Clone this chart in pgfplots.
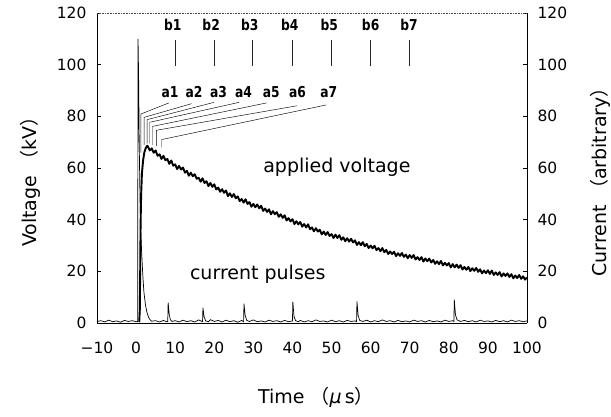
\documentclass[border=0pt]{standalone}
\usepackage{pgfplots}
\pgfplotsset{compat=1.18}
\usepackage{fontspec}
\setmainfont{DejaVu Sans}
\newfontfamily\cjk{Noto Sans CJK JP}
\newfontfamily\cond[FakeStretch=0.82]{DejaVu Sans}
\begin{document}
\begin{tikzpicture}
\path[use as bounding box] (-97pt,-93pt) rectangle (514pt,323pt);
\pgfplotsset{
 base/.style={at={(0,0)}, anchor=south west, scale only axis, width=430pt, height=310pt,
  xmin=-10, xmax=100, ymin=0, ymax=120, ytick={0,20,...,120},
  tick align=inside, major tick length=4pt, tick style={black, line width=0.6pt},
  /pgf/number format/assume math mode=true,
  ticklabel style={font=\fontsize{15.5}{18}\selectfont},
  label style={font=\fontsize{19}{22}\selectfont},
  axis line style={draw=none}, clip=false}
}
\begin{axis}[base,
 xtick={-10,0,...,100}, xtick style={draw=none},
 xticklabels={−10,0,10,20,30,40,50,60,70,80,90,100},
 xticklabel style={yshift=-15pt},
 yticklabel style={xshift=-7pt},
 xlabel={Time {\cjk （}\textit{μ}\,s{\cjk ）}},
 xlabel style={at={(axis description cs:0.509,-0.239)}, anchor=center},
 ylabel={Voltage {\cjk （}kV{\cjk ）}},
 ylabel style={at={(axis description cs:-0.156,0.47)}, anchor=center},
 unbounded coords=jump]
\draw[line width=0.8pt] (rel axis cs:0,0) -- (rel axis cs:0,1);
\draw[line width=0.8pt] (rel axis cs:1,0) -- (rel axis cs:1,1);
\draw[line width=0.8pt] (rel axis cs:0,0) -- (rel axis cs:1,0);
\draw[densely dotted, line width=0.6pt, black!70] (rel axis cs:0,1) -- (rel axis cs:1,1);
% current pulses
\addplot[black, line width=0.7pt] coordinates {
(-10,0.6)(-9,0.9)(-8,0.4)(-7,1.1)(-6,0.5)(-5,0.8)(-4,0.3)(-3,1.0)(-2,0.6)(-1,0.9)(0,0.5)(0.4,0.6)
(0.5,110)(0.65,95)(0.8,70)(1.0,48)(1.2,36)(1.4,28)(1.7,19)(2.0,12)(2.4,7)(2.8,4)(3.2,2.2)(3.6,1.2)(4.0,0.7)
(5,0.9)(6,0.4)(7,1.0)(7.8,0.5)(8.1,0.6)(8.2,7.9)(8.5,3.0)(8.8,1.2)(9.2,0.6)(10,0.9)(11,0.4)(12,1.1)(13,0.5)
(14,0.9)(15,0.4)(16,1.2)(17.0,0.5)(17.1,5.9)(17.4,2.4)(17.8,0.8)(18.5,0.5)(19,1.3)(20,0.6)(21,1.0)(22,0.4)
(23,1.1)(24,0.5)(25,0.9)(26,0.3)(27,1.0)(27.5,0.5)(27.6,7.5)(27.9,3.0)(28.3,1.0)(29,0.6)(30,1.2)(31,0.5)
(32,0.8)(33,0.4)(34,1.1)(35,0.6)(36,0.9)(37,0.4)(38,1.0)(39,0.5)(40.0,0.8)(40.1,8.2)(40.4,2.5)(40.8,0.9)
(41.5,0.5)(42,1.0)(43,0.4)(44,0.9)(45,0.5)(46,1.2)(47,0.6)(48,0.8)(49,0.4)(50,1.1)(51,0.5)(52,0.9)(53,0.4)
(54,1.0)(55,0.6)(56,0.8)(56.4,0.5)(56.5,8.4)(56.8,3.0)(57.2,1.0)(58,0.6)(59,1.1)(60,0.4)(61,0.9)(62,0.5)
(63,1.2)(64,0.6)(65,0.9)(66,0.4)(67,1.0)(68,0.5)(69,0.8)(70,0.4)(71,1.1)(72,0.6)(73,0.9)(74,0.4)(75,1.0)
(76,0.5)(77,0.8)(78,0.4)(79,1.1)(80,0.6)(81,0.9)(81.3,0.6)(81.4,9.0)(81.7,3.2)(82.1,1.2)(83,0.6)(84,1.0)
(85,0.5)(86,0.9)(87,0.4)(88,1.1)(89,0.6)(90,0.8)(91,0.4)(92,1.0)(93,0.5)(94,0.9)(95,0.4)(96,1.1)(97,0.6)
(98,0.9)(99,0.5)(100,0.8)};
% applied voltage
\addplot[black, line width=1.9pt, line join=round] coordinates {
(0.8,0.3)(0.95,5)(1.05,20)(1.15,38)(1.3,50)(1.5,58)(1.8,63)(2.1,66)(2.5,67.8)(2.8,68.6)
(3.0,68.4)(3.5,66.8)(4.0,67.6)(4.5,65.9)(5.0,66.8)(5.5,64.7)(6.0,65.3)(6.5,63.5)(7.0,64.7)(7.5,63.0)
(8.0,63.5)(8.5,61.6)(9.0,62.9)(9.5,60.9)(10.0,61.4)(10.5,59.6)(11.0,60.8)(11.5,59.4)(12.0,60.2)(12.5,58.2)
(13.0,58.9)(13.5,57.0)(14.0,58.2)(14.5,56.8)(15.0,57.6)(15.5,55.8)(16.0,56.2)(16.5,54.7)(17.0,56.0)(17.5,54.2)
(18.0,54.9)(18.5,53.0)(19.0,54.2)(19.5,52.7)(20.0,53.7)(20.5,51.7)(21.0,52.4)(21.5,50.8)(22.0,51.8)(22.5,50.4)
(23.0,51.3)(23.5,49.1)(24.0,50.2)(24.5,48.8)(25.0,49.9)(25.5,48.3)(26.0,49.0)(26.5,47.2)(27.0,48.0)(27.5,46.6)
(28.0,47.9)(28.5,46.1)(29.0,46.8)(29.5,45.0)(30.0,46.1)(30.5,44.8)(31.0,45.9)(31.5,44.4)(32.0,45.4)(32.5,43.4)
(33.0,44.3)(33.5,43.0)(34.0,44.0)(34.5,42.1)(35.0,43.3)(35.5,42.1)(36.0,42.9)(36.5,41.1)(37.0,42.1)(37.5,40.7)
(38.0,41.7)(38.5,39.7)(39.0,40.6)(39.5,39.3)(40.0,40.2)(40.5,38.3)(41.0,39.4)(41.5,38.2)(42.0,39.1)(42.5,37.3)
(43.0,38.3)(43.5,37.0)(44.0,38.2)(44.5,36.3)(45.0,37.0)(45.5,35.5)(46.0,36.7)(46.5,35.4)(47.0,36.1)(47.5,34.3)
(48.0,35.4)(48.5,34.1)(49.0,35.2)(49.5,33.7)(50.0,34.4)(50.5,32.9)(51.0,34.2)(51.5,32.9)(52.0,34.0)(52.5,32.2)
(53.0,33.2)(53.5,31.7)(54.0,32.8)(54.5,31.5)(55.0,32.6)(55.5,31.2)(56.0,32.0)(56.5,30.2)(57.0,31.3)(57.5,30.1)
(58.0,31.3)(58.5,29.7)(59.0,30.6)(59.5,29.0)(60.0,30.0)(60.5,28.9)(61.0,29.9)(61.5,28.2)(62.0,29.0)(62.5,27.8)
(63.0,29.0)(63.5,27.4)(64.0,28.3)(64.5,26.7)(65.0,27.7)(65.5,26.7)(66.0,27.6)(66.5,25.9)(67.0,27.0)(67.5,26.0)
(68.0,27.1)(68.5,25.6)(69.0,26.5)(69.5,25.1)(70.0,26.3)(70.5,25.2)(71.0,26.3)(71.5,24.6)(72.0,25.5)(72.5,24.4)
(73.0,25.5)(73.5,23.8)(74.0,25.0)(74.5,23.9)(75.0,24.9)(75.5,23.4)(76.0,24.4)(76.5,22.9)(77.0,23.9)(77.5,22.8)
(78.0,24.0)(78.5,22.3)(79.0,23.3)(79.5,22.3)(80.0,23.2)(80.5,21.5)(81.0,22.8)(81.5,21.5)(82.0,22.6)(82.5,21.3)
(83.0,22.4)(83.5,20.7)(84.0,21.7)(84.5,20.6)(85.0,21.7)(85.5,20.1)(86.0,21.2)(86.5,20.2)(87.0,21.3)(87.5,19.8)
(88.0,20.8)(88.5,19.2)(89.0,20.3)(89.5,19.3)(90.0,20.4)(90.5,19.0)(91.0,20.3)(91.5,18.6)(92.0,19.6)(92.5,18.6)
(93.0,19.7)(93.5,18.0)(94.0,19.2)(94.5,18.2)(95.0,19.2)(95.5,17.8)(96.0,18.9)(96.5,17.3)(97.0,18.4)(97.5,17.4)
(98.0,18.6)(98.5,17.1)(99.0,18.1)(99.5,16.8)(100.0,17.6)};
% b markers
\addplot[black!85, line width=0.5pt] coordinates {
(10.1,109.7)(10.1,99.3)(nan,nan)(19.95,109.7)(19.95,99.3)(nan,nan)(29.8,109.7)(29.8,99.3)(nan,nan)
(39.9,109.7)(39.9,99.3)(nan,nan)(49.9,109.7)(49.9,99.3)(nan,nan)(59.9,109.7)(59.9,99.3)(nan,nan)
(69.8,109.7)(69.8,99.3)};
% a markers
\addplot[black, line width=0.45pt] coordinates {
(8.4,85.2)(1.23,80.9)(1.23,66)(nan,nan)
(14.2,84.9)(2.05,79.6)(2.05,69)(nan,nan)
(19.9,85.4)(2.8,78.7)(2.8,69.5)(nan,nan)
(26.3,85.4)(3.5,77.7)(3.5,69.5)(nan,nan)
(33.4,85.2)(4.2,76.1)(4.2,69)(nan,nan)
(41.2,84.1)(5.2,74.6)(5.2,68.5)(nan,nan)
(48.6,84.4)(6.5,71.0)(6.5,68)};
\begin{scope}[font=\cond\bfseries\fontsize{15}{17}\selectfont]
\node[anchor=base] at (axis cs:9.4,113.3) {b1};
\node[anchor=base] at (axis cs:19.2,113.3) {b2};
\node[anchor=base] at (axis cs:29.1,113.3) {b3};
\node[anchor=base] at (axis cs:39.3,113.3) {b4};
\node[anchor=base] at (axis cs:49.4,113.3) {b5};
\node[anchor=base] at (axis cs:60.0,113.3) {b6};
\node[anchor=base] at (axis cs:69.8,113.3) {b7};
\node[anchor=base] at (axis cs:8.7,87.1) {a1};
\node[anchor=base] at (axis cs:14.8,87.1) {a2};
\node[anchor=base] at (axis cs:21.1,87.1) {a3};
\node[anchor=base] at (axis cs:27.5,87.1) {a4};
\node[anchor=base] at (axis cs:34.6,87.1) {a5};
\node[anchor=base] at (axis cs:41.3,87.1) {a6};
\node[anchor=base] at (axis cs:49.3,87.1) {a7};
\end{scope}
\node[anchor=base west, inner sep=0pt, font=\fontsize{19}{22}\selectfont] at (axis cs:32.5,58.1) {applied voltage};
\node[anchor=base west, inner sep=0pt, font=\fontsize{19}{22}\selectfont] at (axis cs:13.75,16.8) {current pulses};
\end{axis}
\begin{axis}[base,
 xtick=\empty, ytick style={draw=none},
 yticklabel pos=right,
 yticklabel style={xshift=7pt},
 ylabel={Current {\cjk （}arbitrary{\cjk ）}},
 ylabel style={at={(axis description cs:1.170,0.47)}, anchor=center, rotate=0}]
\end{axis}
\end{tikzpicture}
\end{document}
